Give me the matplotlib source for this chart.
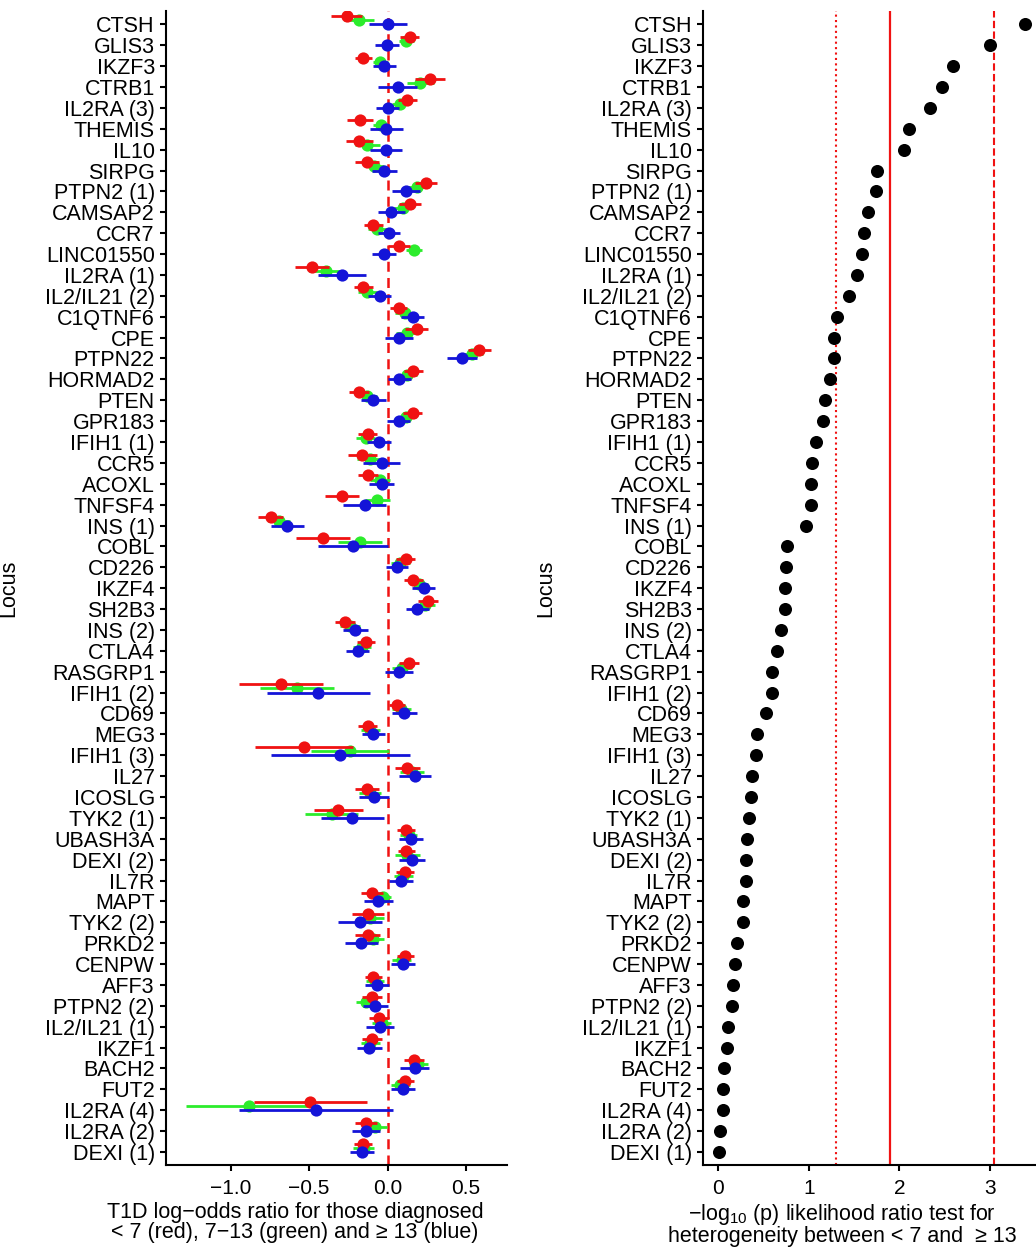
import matplotlib
matplotlib.use("Agg")
import matplotlib.pyplot as plt
import numpy as np

plt.rcParams['font.family'] = ['Liberation Sans', 'DejaVu Sans']
plt.rcParams['mathtext.fontset'] = 'custom'
plt.rcParams['mathtext.rm'] = 'Liberation Sans'
plt.rcParams['mathtext.it'] = 'Liberation Sans:italic'

# loci, top to bottom
loci = ["CTSH", "GLIS3", "IKZF3", "CTRB1", "IL2RA (3)", "THEMIS", "IL10", "SIRPG",
        "PTPN2 (1)", "CAMSAP2", "CCR7", "LINC01550", "IL2RA (1)", "IL2/IL21 (2)",
        "C1QTNF6", "CPE", "PTPN22", "HORMAD2", "PTEN", "GPR183", "IFIH1 (1)", "CCR5",
        "ACOXL", "TNFSF4", "INS (1)", "COBL", "CD226", "IKZF4", "SH2B3", "INS (2)",
        "CTLA4", "RASGRP1", "IFIH1 (2)", "CD69", "MEG3", "IFIH1 (3)", "IL27", "ICOSLG",
        "TYK2 (1)", "UBASH3A", "DEXI (2)", "IL7R", "MAPT", "TYK2 (2)", "PRKD2", "CENPW",
        "AFF3", "PTPN2 (2)", "IL2/IL21 (1)", "IKZF1", "BACH2", "FUT2", "IL2RA (4)",
        "IL2RA (2)", "DEXI (1)"]

# log-odds ratio and CI half-width, diagnosed < 7
red_est = [-0.26, 0.14, -0.155, 0.27, 0.125, -0.175, -0.18, -0.13, 0.245, 0.145,
           -0.09, 0.075, -0.48, -0.155, 0.07, 0.185, 0.585, 0.165, -0.18, 0.16,
           -0.127, -0.16, -0.123, -0.29, -0.745, -0.41, 0.117, 0.165, 0.26, -0.27,
           -0.136, 0.134, -0.68, 0.06, -0.127, -0.53, 0.127, -0.13, -0.314, 0.12,
           0.12, 0.113, -0.096, -0.125, -0.125, 0.113, -0.09, -0.1, -0.057, -0.1,
           0.166, 0.113, -0.493, -0.136, -0.157]
red_hw = [0.10, 0.06, 0.055, 0.095, 0.06, 0.08, 0.085, 0.075, 0.07, 0.07,
          0.06, 0.07, 0.11, 0.06, 0.055, 0.075, 0.075, 0.062, 0.065, 0.062,
          0.06, 0.09, 0.065, 0.107, 0.08, 0.17, 0.06, 0.06, 0.064, 0.064,
          0.057, 0.064, 0.268, 0.053, 0.06, 0.313, 0.08, 0.075, 0.155, 0.058,
          0.055, 0.058, 0.07, 0.1, 0.08, 0.055, 0.056, 0.062, 0.064, 0.062,
          0.064, 0.055, 0.36, 0.068, 0.055]

# diagnosed 7-13
green_est = [-0.18, 0.12, -0.045, 0.21, 0.08, -0.04, -0.13, -0.085, 0.19, 0.10,
             -0.065, 0.17, -0.39, -0.13, 0.11, 0.125, 0.535, 0.123, -0.13, 0.12,
             -0.14, -0.11, -0.047, -0.065, -0.69, -0.175, 0.08, 0.2, 0.24, -0.24,
             -0.163, 0.09, -0.575, 0.087, -0.11, -0.24, 0.155, -0.11, -0.355, 0.134,
             0.127, 0.1, -0.03, -0.11, -0.09, 0.09, -0.08, -0.14, -0.036, -0.11,
             0.197, 0.08, -0.885, -0.08, -0.153]
green_hw = [0.095, 0.05, 0.05, 0.085, 0.05, 0.05, 0.08, 0.06, 0.075, 0.06,
            0.06, 0.05, 0.11, 0.06, 0.06, 0.07, 0.075, 0.063, 0.065, 0.06,
            0.06, 0.085, 0.065, 0.08, 0.07, 0.14, 0.06, 0.06, 0.064, 0.064,
            0.06, 0.064, 0.235, 0.06, 0.06, 0.25, 0.075, 0.07, 0.17, 0.055,
            0.08, 0.06, 0.05, 0.085, 0.07, 0.06, 0.06, 0.06, 0.06, 0.06,
            0.062, 0.06, 0.40, 0.075, 0.066]

# diagnosed >= 13
blue_est = [0.005, -0.005, -0.02, 0.065, 0.0, -0.008, -0.01, -0.02, 0.117, 0.025,
            0.008, -0.023, -0.29, -0.05, 0.16, 0.072, 0.473, 0.076, -0.09, 0.07,
            -0.053, -0.038, -0.038, -0.146, -0.64, -0.22, 0.06, 0.23, 0.19, -0.204,
            -0.19, 0.072, -0.44, 0.108, -0.09, -0.3, 0.176, -0.085, -0.225, 0.15,
            0.155, 0.085, -0.06, -0.178, -0.168, 0.096, -0.068, -0.078, -0.047, -0.115,
            0.172, 0.1, -0.456, -0.136, -0.163]
blue_hw = [0.12, 0.075, 0.075, 0.125, 0.075, 0.105, 0.1, 0.08, 0.09, 0.085,
           0.07, 0.075, 0.15, 0.075, 0.072, 0.09, 0.095, 0.075, 0.08, 0.075,
           0.075, 0.117, 0.08, 0.136, 0.105, 0.22, 0.07, 0.072, 0.075, 0.082,
           0.075, 0.088, 0.33, 0.077, 0.074, 0.44, 0.1, 0.094, 0.2, 0.075,
           0.082, 0.077, 0.093, 0.14, 0.106, 0.077, 0.078, 0.078, 0.089, 0.077,
           0.09, 0.076, 0.49, 0.088, 0.076]

# -log10(p) heterogeneity test, < 7 vs >= 13
neglog_p = [3.39, 2.995, 2.587, 2.47, 2.34, 2.10, 2.05, 1.755, 1.74, 1.655,
            1.61, 1.59, 1.535, 1.44, 1.31, 1.28, 1.28, 1.233, 1.175, 1.156,
            1.075, 1.03, 1.023, 1.02, 0.968, 0.762, 0.744, 0.74, 0.738, 0.696,
            0.648, 0.596, 0.596, 0.523, 0.427, 0.413, 0.372, 0.361, 0.335, 0.313,
            0.31, 0.306, 0.27, 0.268, 0.206, 0.181, 0.166, 0.155, 0.107, 0.092,
            0.063, 0.052, 0.05, 0.019, 0.008]

thr_dotted = 1.30
thr_solid = 1.90
thr_dashed = 3.04

RED = "#F01212"
GREEN = "#2CEC2C"
BLUE = "#1414D8"

n = len(loci)
ypos = np.arange(n)[::-1]

fig = plt.figure(figsize=(10.36, 12.47), dpi=100)
ax1 = fig.add_axes([0.1602, 0.0658, 0.3292, 0.9254])
ax2 = fig.add_axes([0.6786, 0.0658, 0.3214, 0.9254])

# forest plot
ax1.axvline(0, color=RED, lw=1.8, ls=(0, (4, 2.5)), zorder=1)
groups = [(green_est, green_hw, GREEN, 0.2, 2),
          (red_est, red_hw, RED, 0.4, 3),
          (blue_est, blue_hw, BLUE, 0.0, 4)]
for est, hw, col, off, z in groups:
    est = np.array(est)
    hw = np.array(hw)
    yy = ypos + off
    ax1.hlines(yy, est - hw, est + hw, color=col, lw=2.0, zorder=z)
    ax1.plot(est, yy, 'o', color=col, ms=8.8, mec='none', zorder=z)

ax1.set_xlim(-1.411, 0.761)
ax1.set_xticks([-1.0, -0.5, 0.0, 0.5])
ax1.set_xticklabels(["\u22121.0", "\u22120.5", "0.0", "0.5"])
ax1.set_xlabel("T1D log\u2212odds ratio for those diagnosed\n"
               "< 7 (red), 7\u221213 (green) and \u2265 13 (blue)",
               fontsize=15.5, linespacing=0.95)
ax1.xaxis.set_label_coords(0.378, -0.032)

# heterogeneity p-values
ax2.axvline(thr_dotted, color=RED, lw=1.5, ls=(0, (1, 1.6)), zorder=1)
ax2.axvline(thr_solid, color=RED, lw=1.6, zorder=1)
ax2.axvline(thr_dashed, color=RED, lw=1.5, ls=(0, (3.5, 1.6)), zorder=1)
ax2.plot(neglog_p, ypos, 'o', color='black', ms=9.4, mec='none', zorder=3)
ax2.set_xlim(-0.169, 3.507)
ax2.set_xticks([0, 1, 2, 3])
ax2.set_xlabel("\u2212log$_{10}$ (p) likelihood ratio test for\n"
               "heterogeneity between < 7 and  \u2265 13",
               fontsize=15.5, linespacing=0.95)
ax2.xaxis.set_label_coords(0.417, -0.032)

for ax, lx in ((ax1, -0.43), (ax2, -0.44)):
    ax.set_ylim(-0.62, 54.64)
    ax.set_yticks(ypos)
    ax.set_yticklabels(loci)
    ax.set_ylabel("Locus", fontsize=15.5)
    ax.yaxis.set_label_coords(lx, 0.5)
    for s in ("top", "right"):
        ax.spines[s].set_visible(False)
    for s in ("left", "bottom"):
        ax.spines[s].set_linewidth(1.5)
    ax.tick_params(axis='both', length=4.5, width=1.5, colors='black')
    ax.tick_params(axis='y', labelsize=15.5, pad=3.5)
    ax.tick_params(axis='x', labelsize=15, pad=5.5)

fig.savefig("out.png", dpi=100)
